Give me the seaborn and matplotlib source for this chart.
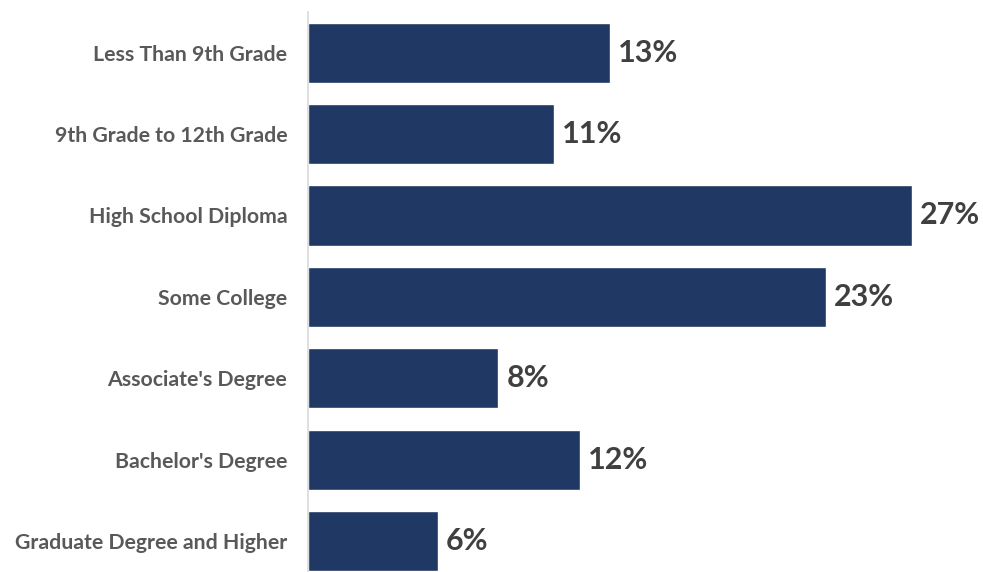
import matplotlib
matplotlib.use("Agg")
import matplotlib.pyplot as plt
import seaborn as sns
import pandas as pd

categories = ["Less Than 9th Grade", "9th Grade to 12th Grade", "High School Diploma",
              "Some College", "Associate's Degree", "Bachelor's Degree",
              "Graduate Degree and Higher"]
values = [13.5, 11.0, 27.0, 23.15, 8.5, 12.15, 5.8]
value_labels = ["13%", "11%", "27%", "23%", "8%", "12%", "6%"]

df = pd.DataFrame({"category": categories, "value": values})

sns.set_style("white")
plt.rcParams["font.family"] = ["Lato", "DejaVu Sans"]

fig = plt.figure(figsize=(9.83, 5.72), dpi=100)
ax = fig.add_axes([308/983, 0, (983-308)/983, (572-12)/572])

sns.barplot(data=df, x="value", y="category", orient="h", color="#203864",
            width=0.74, saturation=1, ax=ax)

ax.set_xlim(0, (983-308)/22.37)
ax.set_ylim(6.38, -0.5)
ax.set_xlabel("")
ax.set_ylabel("")
ax.set_xticks([])
for s in ["top", "right", "bottom"]:
    ax.spines[s].set_visible(False)
ax.spines["left"].set_color("#d9d9d9")
ax.spines["left"].set_linewidth(1.2)
ax.tick_params(axis="y", length=0, pad=15)
for t in ax.get_yticklabels():
    t.set_fontsize(15.3)
    t.set_fontweight("bold")
    t.set_color("#595959")

for i, (v, lab) in enumerate(zip(values, value_labels)):
    ax.annotate(lab, xy=(v, i), xytext=(6, 0), textcoords="offset points",
                va="center", ha="left", fontsize=22, fontweight="bold", color="#404040")

fig.savefig("out.png", dpi=100)
